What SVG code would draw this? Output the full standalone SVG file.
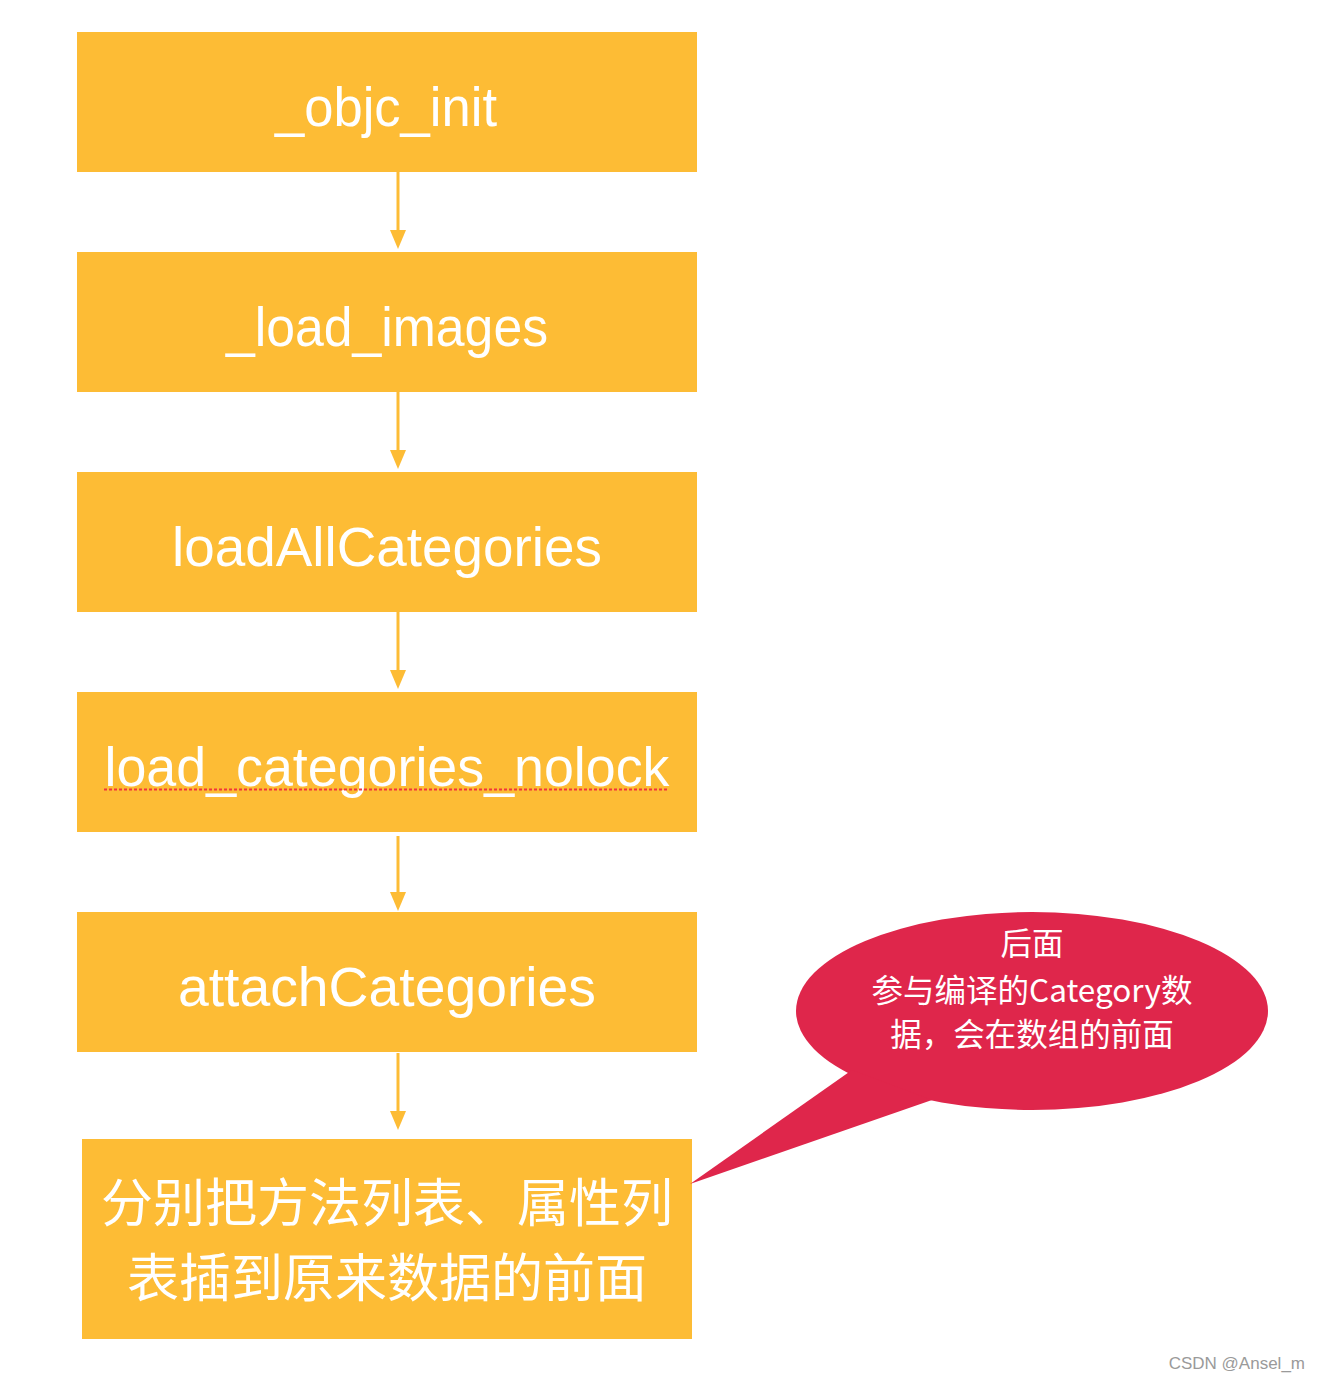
<svg xmlns="http://www.w3.org/2000/svg" width="1320" height="1382" viewBox="0 0 1320 1382">
<style>
.box{fill:#FDBC35}
.t{fill:#fff;font-family:"Liberation Sans","Noto Sans",sans-serif;font-size:55px;text-anchor:middle}
.cj{fill:#fff;font-family:"Noto Sans CJK SC","Liberation Sans",sans-serif;font-size:52px;text-anchor:middle}
.ct{fill:#fff;font-family:"Noto Sans CJK SC","Liberation Sans",sans-serif;font-size:31.5px;text-anchor:middle}
.line{stroke:#FDBC35;stroke-width:3;fill:none}
.head{fill:#FDBC35}
</style>
<rect width="1320" height="1382" fill="#fff"/>
<g id="connectors">
<path class="line" d="M398 172 V240"/>
<path class="head" d="M390 230 H406 L398 249 Z"/>
<path class="line" d="M398 392 V460"/>
<path class="head" d="M390 450 H406 L398 469 Z"/>
<path class="line" d="M398 612 V680"/>
<path class="head" d="M390 670 H406 L398 689 Z"/>
<path class="line" d="M398 836 V900"/>
<path class="head" d="M390 892 H406 L398 911 Z"/>
<path class="line" d="M398 1053 V1120"/>
<path class="head" d="M390 1111 H406 L398 1130 Z"/>
</g>
<g id="n1"><rect class="box" x="77" y="32" width="620" height="140"/><text class="t" x="386" y="126" textLength="222" lengthAdjust="spacingAndGlyphs">_objc_init</text></g>
<g id="n2"><rect class="box" x="77" y="252" width="620" height="140"/><text class="t" x="387" y="346" textLength="322" lengthAdjust="spacingAndGlyphs">_load_images</text></g>
<g id="n3"><rect class="box" x="77" y="472" width="620" height="140"/><text class="t" x="387" y="566" textLength="430" lengthAdjust="spacingAndGlyphs">loadAllCategories</text></g>
<g id="n4"><rect class="box" x="77" y="692" width="620" height="140"/><text class="t" x="387" y="786" textLength="565" lengthAdjust="spacingAndGlyphs">load_categories_nolock</text>
<line x1="104" y1="789.5" x2="669" y2="789.5" stroke="#F2353A" stroke-width="2" stroke-dasharray="3 2"/></g>
<g id="n5"><rect class="box" x="77" y="912" width="620" height="140"/><text class="t" x="387" y="1006" textLength="418" lengthAdjust="spacingAndGlyphs">attachCategories</text></g>
<g id="n6"><rect class="box" x="82" y="1139" width="610" height="200"/>
<text class="cj" x="387" y="1222">分别把方法列表、属性列</text>
<text class="cj" x="387" y="1297">表插到原来数据的前面</text></g>
<g id="callout">
<ellipse cx="1032" cy="1011" rx="236" ry="99" fill="#DF264B"/>
<path d="M852 1070 L690 1184 L932 1100 Z" fill="#DF264B"/>
<text class="ct" x="1032" y="955">后面</text>
<text class="ct" x="1032" y="1002">参与编译的Category数</text>
<text class="ct" x="1032" y="1046">据，会在数组的前面</text>
</g>
<text x="1305" y="1369" fill="#9a9a9a" font-family="Liberation Sans, sans-serif" font-size="17" text-anchor="end">CSDN @Ansel_m</text>
</svg>
